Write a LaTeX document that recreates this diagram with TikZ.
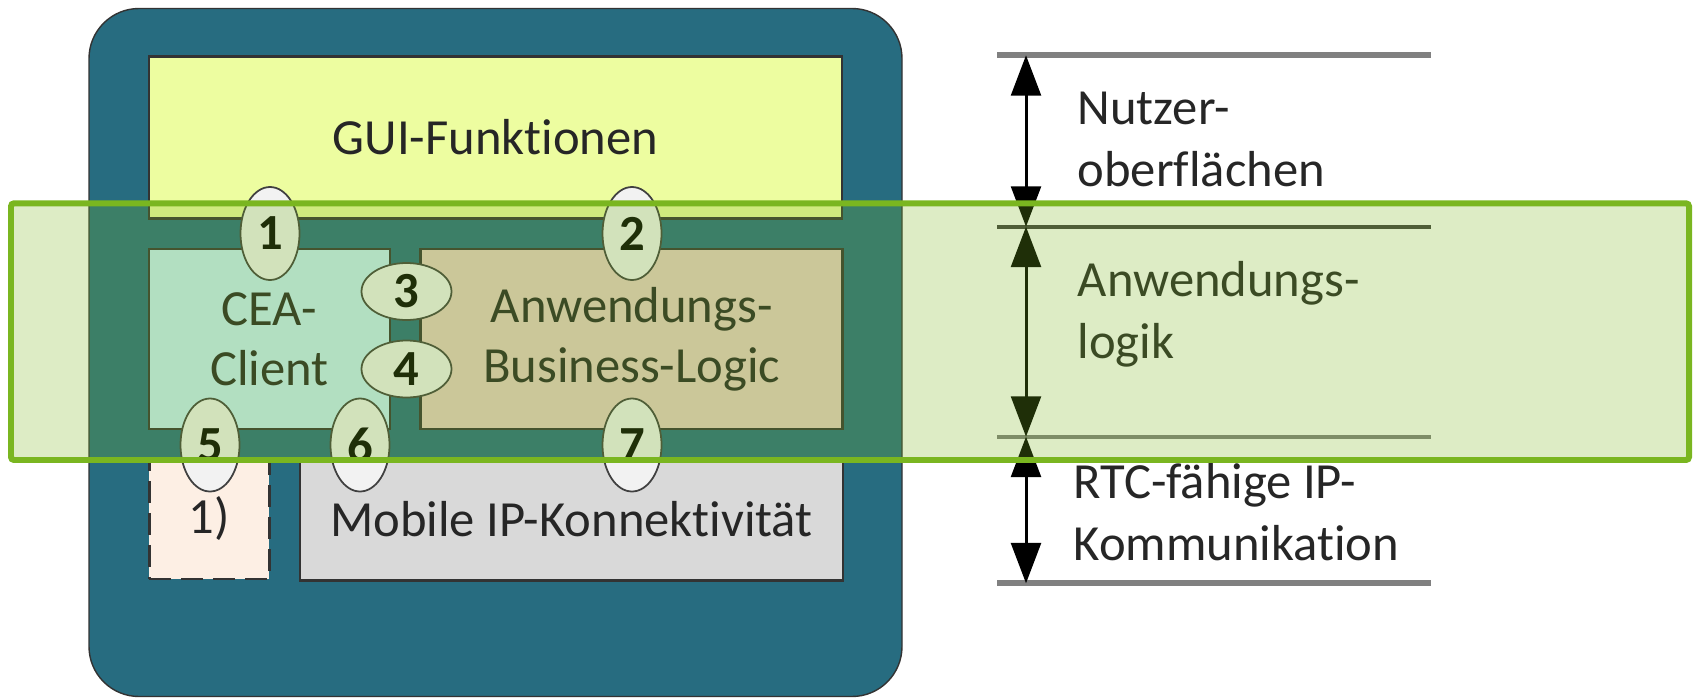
\documentclass[tikz,border=0pt]{standalone}
\usepackage{fontspec}
\setmainfont[Ligatures=NoCommon]{Carlito}
\usetikzlibrary{arrows.meta,shapes.geometric}

\definecolor{devteal}{RGB}{39,108,128}
\definecolor{guiyellow}{RGB}{237,253,160}
\definecolor{ceacyan}{RGB}{198,238,250}
\definecolor{logictan}{RGB}{232,205,196}
\definecolor{optpeach}{RGB}{253,239,228}
\definecolor{netgray}{RGB}{217,217,217}
\definecolor{portgray}{RGB}{242,242,242}
\definecolor{bandgreen}{RGB}{122,182,32}
\definecolor{rulegray}{RGB}{128,128,128}

\begin{document}
\begin{tikzpicture}[x=0.1mm, y=-0.1mm,
    every node/.style={font=\fontsize{14.4}{17.1}\selectfont, text=black!85},
    box/.style={draw=black!80, line width=0.7pt, inner sep=0pt, align=center},
    port/.style={ellipse, draw=black!75, fill=portgray, line width=0.5pt, inner sep=0pt,
                 font=\fontsize{14.4}{17.1}\selectfont\bfseries, text=black},
    vport/.style={port, minimum width=5.9mm, minimum height=9.3mm},
    hport/.style={port, minimum width=9mm, minimum height=5.7mm},
    layer/.style={align=left, inner sep=0pt, anchor=base west,
                  font=\fontsize{14.4}{17.6}\selectfont},
    rule/.style={draw=rulegray, line width=1.7pt},
    thinrule/.style={line width=1.1pt},
    span/.style={arrows={Triangle[width=8.5pt,length=11.5pt]-Triangle[width=8.5pt,length=11.5pt]},
                 line width=0.85pt, black},
    band/.style={draw=bandgreen, line width=1.7pt, fill=bandgreen, fill opacity=0.26,
                 rounded corners=0.3mm}]
\useasboundingbox (0,0) rectangle (1696,698);

% end device
\node[draw=black!80, fill=devteal, line width=0.4pt, rounded corners=5mm,
      minimum width=81.3mm, minimum height=68.8mm, inner sep=0pt] (device) at (495.5,352.5) {};

% functional blocks
\node[box, fill=guiyellow, minimum width=69.3mm, minimum height=16.2mm] (gui) at (495.5,137.4) {GUI-Funktionen};
\node[box, fill=ceacyan, minimum width=24.1mm, minimum height=18mm] (cea) at (269.6,339) {CEA-\\Client};
\node[box, fill=logictan, minimum width=42.2mm, minimum height=18mm] (logic) at (631.7,339) {Anwendungs-\\Business-Logic};
\node[box, fill=optpeach, dash pattern=on 6.3pt off 2.8pt, minimum width=12mm, minimum height=12.1mm] (opt) at (209.3,518.5) {1)};
\node[box, fill=netgray, minimum width=54.3mm, minimum height=12.25mm] (net) at (571.4,519.3) {Mobile IP-Konnektivität};

% interfaces
\node[vport] (p1) at (270,233.5) {1};
\node[vport] (p2) at (632,233.5) {2};
\node[hport] (p3) at (406.5,291.5) {3};
\node[hport] (p4) at (406.5,369) {4};
\node[vport] (p5) at (210,445) {5};
\node[vport] (p6) at (360,445) {6};
\node[vport] (p7) at (632,445) {7};

% layer scale
\coordinate (lv0) at (1026,55.3);
\coordinate (lv1) at (1026,226.7);
\coordinate (lv2) at (1026,436.7);
\coordinate (lv3) at (1026,583.3);
\draw[rule] (997,55.3) -- (1431,55.3);
\draw[rule, thinrule, draw=black!75] (997,226.7) -- (1431,226.7);
\draw[rule, thinrule] (997,436.7) -- (1431,436.7);
\draw[rule] (997,583.3) -- (1431,583.3);
\draw[span] (lv0) -- (lv1);
\draw[span] (lv1) -- (lv2);
\draw[span] (lv2) -- (lv3);

\node[layer] (ui) at (1077,186.7) {Nutzer-\\oberflächen};
\node[layer] (app) at (1077,358.3) {Anwendungs-\\logik};
\node[layer] (rtc) at (1073,560) {RTC-fähige IP-\\Kommunikation};

% highlighted application layer
\draw[band] (11,203.3) rectangle (1689,460);
\end{tikzpicture}
\end{document}
